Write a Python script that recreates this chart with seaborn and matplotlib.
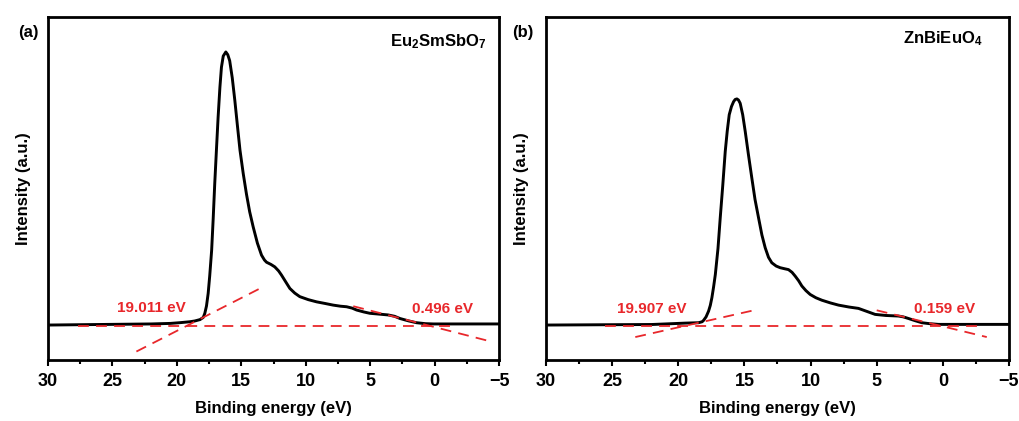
import numpy as np
import pandas as pd
import matplotlib
matplotlib.use("Agg")
import matplotlib.pyplot as plt
import seaborn as sns

# ---------------- data ----------------
energy_a = [30, 26, 22, 20.5, 19.8, 19.0, 18.6, 18.2, 17.95, 17.83, 17.7, 17.57, 17.45, 17.3, 17.18,
            17.06, 16.93, 16.8, 16.66, 16.54, 16.4, 16.2, 16.05, 15.9, 15.7, 15.5, 15.3, 15.1, 14.85,
            14.6, 14.35, 14.08, 13.75, 13.43, 13.2, 13.04, 12.7, 12.4, 12.1, 11.88, 11.55, 11.23,
            10.85, 10.46, 9.8, 9.16, 8.5, 7.87, 7.3, 6.83, 6.4, 6.05, 5.5, 5.02, 4.3, 3.6, 3.1, 2.69,
            2.0, 1.4, 0.7, 0.1, -2.5, -5]
intensity_a = [0.0, 0.002, 0.004, 0.006, 0.0085, 0.012, 0.015, 0.02, 0.028, 0.043, 0.07, 0.116, 0.18,
               0.274, 0.39, 0.518, 0.64, 0.76, 0.87, 0.944, 0.985, 1.0, 0.99, 0.968, 0.905, 0.822, 0.73,
               0.64, 0.555, 0.48, 0.415, 0.36, 0.3, 0.256, 0.238, 0.23, 0.222, 0.213, 0.198, 0.183,
               0.158, 0.134, 0.117, 0.104, 0.093, 0.085, 0.079, 0.073, 0.069, 0.067, 0.062, 0.055,
               0.048, 0.043, 0.04, 0.037, 0.032, 0.024, 0.015, 0.0085, 0.005, 0.004, 0.004, 0.004]

energy_b = [30, 26, 22, 20.48, 19.5, 18.47, 18.2, 18.09, 17.9, 17.71, 17.58, 17.46, 17.33, 17.2,
            17.0, 16.83, 16.64, 16.45, 16.3, 16.15, 15.98, 15.82, 15.7, 15.57, 15.45, 15.32, 15.13,
            14.94, 14.7, 14.44, 14.2, 13.93, 13.68, 13.43, 13.18, 12.93, 12.6, 12.3, 11.95, 11.67,
            11.4, 11.16, 10.9, 10.66, 10.35, 10.03, 9.6, 9.15, 8.5, 7.89, 7.1, 6.38, 5.75, 5.12, 4.3,
            3.36, 3.0, 2.6, 2.1, 1.59, 1.0, 0.33, -2.5, -5]
intensity_b = [0.0, 0.001, 0.002, 0.005, 0.007, 0.0085, 0.012, 0.017, 0.03, 0.051, 0.072, 0.1, 0.14,
               0.185, 0.28, 0.392, 0.51, 0.636, 0.71, 0.77, 0.8, 0.818, 0.826, 0.828, 0.824, 0.812,
               0.77, 0.709, 0.625, 0.538, 0.46, 0.392, 0.33, 0.283, 0.248, 0.228, 0.216, 0.21, 0.206,
               0.203, 0.193, 0.179, 0.162, 0.143, 0.126, 0.112, 0.1, 0.091, 0.081, 0.073, 0.066,
               0.061, 0.05, 0.039, 0.035, 0.033, 0.03, 0.024, 0.016, 0.0085, 0.005, 0.0024, 0.0024,
               0.0024]

# red dashed construction lines: (x0, x1), (y0, y1)
base_a = ([27.67, -1.58], [-0.002, -0.002])
lead_a = ([23.14, 13.3], [-0.097, 0.14])
vb_a = ([6.31, -4.43], [0.069, -0.061])
base_b = ([25.52, -2.69], [-0.004, -0.004])
lead_b = ([23.25, 14.01], [-0.044, 0.057])
vb_b = ([5.0, -3.32], [0.054, -0.044])

labels_a = ["19.011 eV", "0.496 eV"]
labels_b = ["19.907 eV", "0.159 eV"]
label_pos_a = [(21.97, 0.061), (-0.62, 0.058)]
label_pos_b = [(21.99, 0.058), (-0.12, 0.058)]

compounds = [r"Eu$_\mathbf{2}$SmSbO$_\mathbf{7}$", r"ZnBiEuO$_\mathbf{4}$"]
compound_pos = [(0.973, 0.927), (0.944, 0.936)]
panel_tags = ["(a)", "(b)"]
xticks = [30, 25, 20, 15, 10, 5, 0, -5]

# ---------------- style ----------------
sns.set_style("ticks")
plt.rcParams['font.family'] = ['Liberation Sans', 'DejaVu Sans']
plt.rcParams['font.weight'] = 'bold'
plt.rcParams['mathtext.fontset'] = 'custom'
plt.rcParams['mathtext.rm'] = 'Liberation Sans:bold'
plt.rcParams['mathtext.bf'] = 'Liberation Sans:bold'
plt.rcParams['mathtext.it'] = 'Liberation Sans:bold'
plt.rcParams['axes.unicode_minus'] = True
plt.rcParams['text.color'] = 'black'
plt.rcParams['axes.labelcolor'] = 'black'
plt.rcParams['xtick.color'] = 'black'
plt.rcParams['ytick.color'] = 'black'

fig = plt.figure(figsize=(10.19, 4.21), dpi=100)
ax_a = fig.add_axes([48 / 1019, 61 / 421, 451 / 1019, 343 / 421])
ax_b = fig.add_axes([546 / 1019, 61 / 421, 463 / 1019, 343 / 421])

panels = [
    (ax_a, energy_a, intensity_a, [base_a, lead_a, vb_a], labels_a, label_pos_a),
    (ax_b, energy_b, intensity_b, [base_b, lead_b, vb_b], labels_b, label_pos_b),
]

red = "#e8272b"
for i, (ax, ex, iy, lines, labs, lpos) in enumerate(panels):
    df = pd.DataFrame({"E": ex, "I": iy})
    sns.lineplot(data=df, x="E", y="I", ax=ax, color="black", lw=2.1, sort=False, zorder=3)
    for (xs, ys) in lines:
        ax.plot(xs, ys, color=red, lw=1.3, ls=(0, (6, 4)), zorder=4)
    for t, (px, py) in zip(labs, lpos):
        ax.text(px, py, t, color=red, fontsize=11, fontweight='bold', ha='center', va='center')
    ax.set_xlim(30, -5)
    ax.set_ylim(-0.128, 1.128)
    ax.set_xticks(xticks)
    ax.set_xticklabels([str(v).replace('-', '\u2212') for v in xticks])
    ax.set_xticks([27.5, 22.5, 17.5, 12.5, 7.5, 2.5, -2.5], minor=True)
    ax.set_yticks([])
    ax.tick_params(axis='x', which='major', direction='out', length=4, width=1.5, labelsize=13, pad=5,
                   colors='black')
    ax.tick_params(axis='x', which='minor', direction='out', length=3, width=1.5, colors='black')
    for lbl in ax.get_xticklabels():
        lbl.set_fontweight('bold')
    for s in ax.spines.values():
        s.set_visible(True)
        s.set_linewidth(2.0)
        s.set_color('black')
    ax.set_xlabel("Binding energy (eV)", fontsize=12, fontweight='bold', labelpad=8, color='black')
    ax.set_ylabel("Intensity (a.u.)", fontsize=12, fontweight='bold', labelpad=12.5, color='black')
    cx, cy = compound_pos[i]
    ax.text(cx, cy, compounds[i], transform=ax.transAxes, ha='right', va='center',
            fontsize=12, fontweight='bold', color='black')

fig.text(28 / 1019, 1 - 32 / 421, panel_tags[0], fontsize=12, fontweight='bold', ha='center', va='center',
         color='black')
fig.text(523 / 1019, 1 - 32 / 421, panel_tags[1], fontsize=12, fontweight='bold', ha='center', va='center',
         color='black')

fig.savefig("out.png", dpi=100)
